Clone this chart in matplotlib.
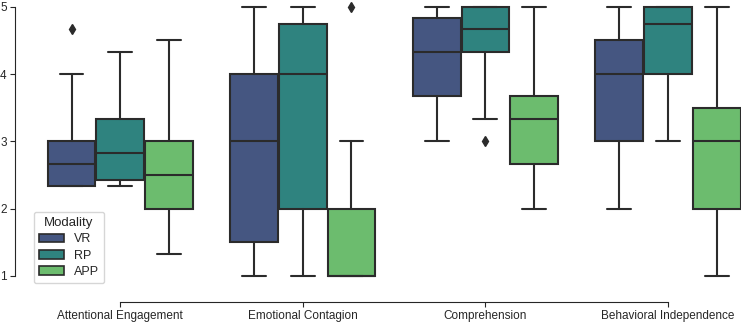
import numpy as np
import matplotlib.pyplot as plt
import seaborn as sns

categories = ['Attentional Engagement', 'Emotional Contagion', 'Comprehension', 'Behavioral Independence']
modalities = ['VR', 'RP', 'APP']

# five-number summaries: (whislo, q1, med, q3, whishi)
vr_stats = [(2.33, 2.33, 2.67, 3.0, 4.0), (1.0, 1.5, 3.0, 4.0, 5.0),
            (3.0, 3.67, 4.33, 4.83, 5.0), (2.0, 3.0, 4.0, 4.5, 5.0)]
rp_stats = [(2.33, 2.42, 2.83, 3.33, 4.33), (1.0, 2.0, 4.0, 4.75, 5.0),
            (3.33, 4.33, 4.67, 5.0, 5.0), (3.0, 4.0, 4.75, 5.0, 5.0)]
app_stats = [(1.33, 2.0, 2.5, 3.0, 4.5), (1.0, 1.0, 1.0, 2.0, 3.0),
             (2.0, 2.67, 3.33, 3.67, 5.0), (1.0, 2.0, 3.0, 3.5, 5.0)]
vr_fliers = [[4.67], [], [], []]
rp_fliers = [[], [], [3.0], []]
app_fliers = [[], [5.0], [], []]

all_stats = [vr_stats, rp_stats, app_stats]
all_fliers = [vr_fliers, rp_fliers, app_fliers]

sns.set_style('ticks')
plt.rcParams['font.family'] = ['Liberation Sans', 'DejaVu Sans']

palette = [sns.desaturate(c, 0.75) for c in sns.color_palette('viridis', 3)]
line_col = '#2b2b2b'

fig = plt.figure(figsize=(7.41, 3.23), dpi=100)
ax = fig.add_axes([0.039, 0.108, 0.961, 0.892])

n = len(modalities)
w = 0.8 / n
for j in range(n):
    stats = []
    for i in range(len(categories)):
        lo, q1, med, q3, hi = all_stats[j][i]
        stats.append(dict(whislo=lo, q1=q1, med=med, q3=q3, whishi=hi,
                          fliers=all_fliers[j][i]))
    pos = np.arange(len(categories)) - 0.4 + w / 2 + j * w
    ax.bxp(stats, positions=pos, widths=w * 0.98, patch_artist=True,
           manage_ticks=False,
           boxprops=dict(facecolor=palette[j], edgecolor=line_col, linewidth=1.5),
           medianprops=dict(color=line_col, linewidth=1.5),
           whiskerprops=dict(color=line_col, linewidth=1.5),
           capprops=dict(color=line_col, linewidth=1.5),
           flierprops=dict(marker='d', markerfacecolor=line_col,
                           markeredgecolor=line_col, markersize=5))
    ax.bar(0, 0, color=palette[j], edgecolor=line_col, linewidth=1.2,
           label=modalities[j])

ax.set_xlim(-0.5, 3.4)
ax.set_ylim(0.82, 5.1)
ax.set_xticks(range(len(categories)))
ax.set_xticklabels(categories)
ax.set_yticks([1, 2, 3, 4, 5])
sns.despine(ax=ax, offset=10, trim=True)
# despine(trim) rebuilds the ticks, so size the labels afterwards
ax.tick_params(axis='x', labelsize=8.5, pad=2.5)
ax.tick_params(axis='y', labelsize=8.5, pad=2.5)

leg = ax.legend(title='Modality', loc='lower left', bbox_to_anchor=(0.0, 0.0),
                borderaxespad=0.4, labelspacing=0.35,
                fontsize=9, title_fontsize=9.5)

fig.savefig('out.png', dpi=100)
